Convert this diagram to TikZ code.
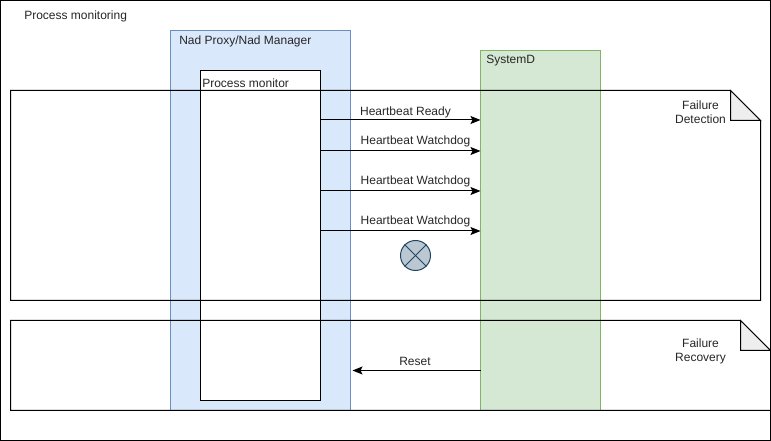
\documentclass[tikz,border=0pt]{standalone}
\usepackage{fontspec}
\setmainfont{Liberation Sans}
\usetikzlibrary{arrows.meta}
\definecolor{nadfill}{HTML}{DAE8FC}
\definecolor{naddraw}{HTML}{6C8EBF}
\definecolor{sysfill}{HTML}{D5E8D4}
\definecolor{sysdraw}{HTML}{82B366}
\definecolor{foldfill}{HTML}{EEEEEE}
\definecolor{lostfill}{HTML}{BAC8D3}
\definecolor{lostdraw}{HTML}{23445D}
\tikzset{
	lane/.style={draw, line width=0.75pt, inner sep=0pt, outer sep=0pt, anchor=north west},
	label/.style={inner sep=0pt, text=black!85, font=\fontsize{9}{10.5}\selectfont, align=center},
	tag/.style={label, anchor=west},
	flow/.style={-{Stealth[length=7.5pt, width=6pt, inset=1.5pt]}, line width=0.75pt},
	note/.style={draw, line width=0.75pt, line join=miter},
	fold/.style={note, fill=foldfill}
}
\begin{document}
\begin{tikzpicture}[x=0.75pt, y=-0.75pt]
		\useasboundingbox (0,0) rectangle (771,441);

		% Ytre ramme
		\draw[line width=0.75pt] (0.5,0.5) rectangle (770.5,440.5);
		\node[tag] (title) at (24,16) {Process monitoring};

		% Baner
		\node[lane, fill=nadfill, draw=naddraw, minimum width=135pt, minimum height=285pt] (nad) at (170.5,30.5) {};
		\node[lane, fill=white, minimum width=90pt, minimum height=247.5pt] (monitor) at (200.5,70.5) {};
		\node[lane, fill=sysfill, draw=sysdraw, minimum width=90pt, minimum height=270pt] (systemd) at (480.5,50.5) {};
		\node[tag] (nadlabel) at (179,41) {Nad Proxy/Nad Manager};
		\node[tag] (monitorlabel) at (202,83) {Process monitor};
		\node[tag] (systemdlabel) at (486,61) {SystemD};

		% Notat for feildeteksjon
		\draw[note] (10.5,90.5) -- (730.5,90.5) -- (760.5,120.5) -- (760.5,300.5) -- (10.5,300.5) -- cycle;
		\draw[fold] (730.5,90.5) -- (730.5,120.5) -- (760.5,120.5) -- cycle;
		\node[label] (detection) at (700.5,112) {Failure\\Detection};

		% Notat for gjenoppretting
		\draw[note] (10.5,320.5) -- (740.5,320.5) -- (770.5,350.5) -- (770.5,410.5) -- (10.5,410.5) -- cycle;
		\draw[fold] (740.5,320.5) -- (740.5,350.5) -- (770.5,350.5) -- cycle;
		\node[label] (recovery) at (700.5,351) {Failure\\Recovery};

		% Hjerteslag
		\draw[flow] (monitor.east |- 0,120) -- (systemd.west |- 0,120);
		\node[label] (ready) at (405.5,112) {Heartbeat Ready};
		\foreach \name/\y in {dogone/151, dogtwo/191, dogthree/231} {
			\draw[flow] (monitor.east |- 0,\y) -- (systemd.west |- 0,\y);
			\node[label] (\name) at (415.5,\y-9.5) {Heartbeat Watchdog};
		}

		% Tapt hjerteslag
		\node[circle, draw=lostdraw, fill=lostfill, line width=0.75pt, minimum size=22.5pt, inner sep=0pt] (lost) at (415.5,255.5) {};
		\draw[lostdraw, line width=0.75pt] (lost.north west) -- (lost.south east);
		\draw[lostdraw, line width=0.75pt] (lost.north east) -- (lost.south west);

		% Omstart
		\coordinate (resetend) at (352.5,370.5);
		\draw[flow] (systemd.west |- resetend) -- (resetend);
		\node[label] (reset) at (415,361) {Reset};
	\end{tikzpicture}
\end{document}
